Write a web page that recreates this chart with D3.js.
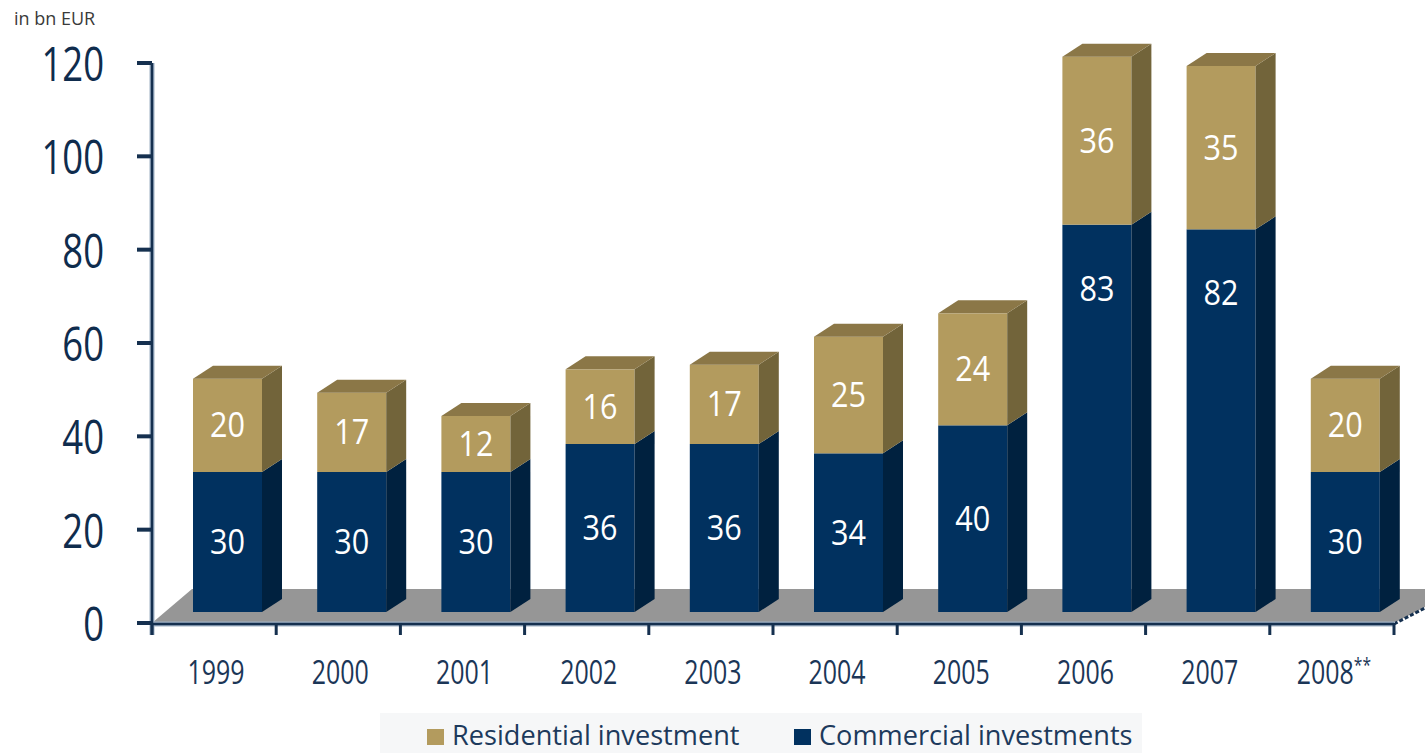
<!DOCTYPE html>
<html>
<head>
<meta charset="utf-8">
<script src="https://cdn.jsdelivr.net/npm/d3@7"></script>
<style>
  html, body { margin: 0; padding: 0; background: #ffffff; }
  svg { display: block; font-family: "Open Sans", "Noto Sans", sans-serif; }
</style>
</head>
<body>
<svg id="chart" width="1425" height="753"></svg>
<script>
// Investment volume by year (bn EUR)
const years = ["1999", "2000", "2001", "2002", "2003", "2004", "2005", "2006", "2007", "2008"];
const yearLabels = ["1999", "2000", "2001", "2002", "2003", "2004", "2005", "2006", "2007", "2008"];
const commercial = [30, 30, 30, 36, 36, 34, 40, 83, 82, 30];
const residential = [20, 17, 12, 16, 17, 25, 24, 36, 35, 20];
const yTicks = [0, 20, 40, 60, 80, 100, 120];
const seriesNames = ["Residential investment", "Commercial investments"];

const colors = {
  comFront: "#01315f", comSide: "#00213f",
  resFront: "#b39b5e", resSide: "#72643a", resTop: "#8b7747",
  floor: "#969696", axis: "#15304f", halo: "#9fb1c4",
  tick: "#0f2c4d", label: "#1b3657"
};

const svg = d3.select("#chart");

const x = d3.scaleBand().domain(years).range([152, 1394]).padding(0);
const y = d3.scaleLinear().domain([0, 120]).range([623, 63]);

// 3D projection parameters
const floorDepth = { dx: 40, dy: -34 };
const floorRightDx = 66;
const barLift = 11;       // bars stand slightly behind the floor front edge
const barInset = 41;      // front face offset inside each band
const barW = 69;
const depth = { dx: 20, dy: -13 };
const tallSegment = 250;  // labels of very tall segments sit near their top
const tallLabelDrop = 64;

// floor
svg.append("polygon")
  .attr("points", [
    [x.range()[0], y(0)],
    [x.range()[1], y(0)],
    [x.range()[1] + floorRightDx, y(0) + floorDepth.dy],
    [x.range()[0] + floorDepth.dx, y(0) + floorDepth.dy]
  ].map(p => p.join(",")).join(" "))
  .attr("fill", colors.floor);

// right edge of floor
svg.append("line")
  .attr("x1", x.range()[1]).attr("y1", y(0) + 1)
  .attr("x2", x.range()[1] + floorRightDx).attr("y2", y(0) + 1 + floorDepth.dy)
  .attr("stroke", colors.axis).attr("stroke-width", 3)
  .attr("stroke-dasharray", "4,2");

// bars
const bars = svg.append("g");
years.forEach((yr, i) => {
  const x0 = x(yr) + barInset;
  const x1 = x0 + barW;
  const yb = v => y(v) - barLift;
  const segs = [
    { lo: 0, hi: commercial[i], front: colors.comFront, side: colors.comSide, val: commercial[i] },
    { lo: commercial[i], hi: commercial[i] + residential[i], front: colors.resFront, side: colors.resSide, val: residential[i] }
  ];
  const g = bars.append("g");
  segs.forEach(s => {
    const yt = yb(s.hi), ybo = yb(s.lo);
    g.append("rect")
      .attr("x", x0).attr("y", yt)
      .attr("width", barW).attr("height", ybo - yt)
      .attr("fill", s.front);
    g.append("polygon")
      .attr("points", [[x1, yt], [x1 + depth.dx, yt + depth.dy], [x1 + depth.dx, ybo + depth.dy], [x1, ybo]]
        .map(p => p.join(",")).join(" "))
      .attr("fill", s.side);
  });
  const top = yb(commercial[i] + residential[i]);
  g.append("polygon")
    .attr("points", [[x0, top], [x0 + depth.dx, top + depth.dy], [x1 + depth.dx, top + depth.dy], [x1, top]]
      .map(p => p.join(",")).join(" "))
    .attr("fill", colors.resTop);
  // value labels
  segs.forEach(s => {
    const yt = yb(s.hi), ybo = yb(s.lo);
    const cy = (ybo - yt) > tallSegment ? yt + tallLabelDrop : (yt + ybo) / 2;
    g.append("text")
      .attr("transform", `translate(${(x0 + x1) / 2},${cy + 12}) scale(0.9,1)`)
      .attr("text-anchor", "middle")
      .attr("font-size", 34)
      .attr("fill", "#ffffff")
      .text(s.val);
  });
});

// axes
const axisG = svg.append("g");
// axis lines with soft halo
axisG.append("line")
  .attr("x1", 152).attr("x2", 152).attr("y1", y(120)).attr("y2", y(0) + 12)
  .attr("stroke", colors.halo).attr("stroke-width", 5);
axisG.append("line")
  .attr("x1", x.range()[0] - 1).attr("x2", x.range()[1] + 1).attr("y1", y(0) + 1).attr("y2", y(0) + 1)
  .attr("stroke", colors.halo).attr("stroke-width", 5);
axisG.append("line")
  .attr("x1", 152).attr("x2", 152).attr("y1", y(120)).attr("y2", y(0) + 12)
  .attr("stroke", colors.axis).attr("stroke-width", 2.5);
axisG.append("line")
  .attr("x1", x.range()[0]).attr("x2", x.range()[1]).attr("y1", y(0) + 1).attr("y2", y(0) + 1)
  .attr("stroke", colors.axis).attr("stroke-width", 2.5);

// y ticks and labels
yTicks.forEach(t => {
  axisG.append("line")
    .attr("x1", 137).attr("x2", 152).attr("y1", y(t)).attr("y2", y(t))
    .attr("stroke", colors.axis).attr("stroke-width", 4);
  axisG.append("text")
    .attr("transform", `translate(104,${y(t) + 18}) scale(0.76,1)`)
    .attr("text-anchor", "end")
    .attr("font-size", 48)
    .attr("font-weight", 500)
    .attr("fill", colors.tick)
    .text(t);
});

// x ticks at band boundaries
const boundaries = years.map(yr => x(yr)).concat([x.range()[1]]);
boundaries.forEach(bx => {
  axisG.append("line")
    .attr("x1", bx).attr("x2", bx).attr("y1", y(0)).attr("y2", y(0) + 12)
    .attr("stroke", colors.axis).attr("stroke-width", 3);
});

// year labels
years.forEach((yr, i) => {
  const t = axisG.append("text")
    .attr("transform", `translate(${x(yr) + x.bandwidth() / 2 + 2},684) scale(0.78,1)`)
    .attr("text-anchor", "middle")
    .attr("font-size", 32)
    .attr("font-weight", 500)
    .attr("fill", colors.label);
  t.append("tspan").text(yearLabels[i]);
  if (yr === "2008") {
    t.append("tspan").attr("dy", -12).attr("font-size", 20).text("**");
  }
});

// unit label
svg.append("text")
  .attr("x", 14).attr("y", 25)
  .attr("font-size", 18)
  .attr("fill", "#3a3a3a")
  .text("in bn EUR");

// legend
const legend = svg.append("g");
legend.append("rect")
  .attr("x", 380).attr("y", 713).attr("width", 762).attr("height", 40)
  .attr("fill", "#f6f7f8");
const legendItems = [
  { name: seriesNames[0], color: colors.resFront, x: 427 },
  { name: seriesNames[1], color: colors.comFront, x: 794 }
];
legendItems.forEach(it => {
  legend.append("rect")
    .attr("x", it.x).attr("y", 729).attr("width", 17).attr("height", 16)
    .attr("fill", it.color);
  legend.append("text")
    .attr("transform", `translate(${it.x + 25},745) scale(0.97,1)`)
    .attr("font-size", 28)
    .attr("fill", "#1d3a5c")
    .text(it.name);
});
</script>
</body>
</html>
